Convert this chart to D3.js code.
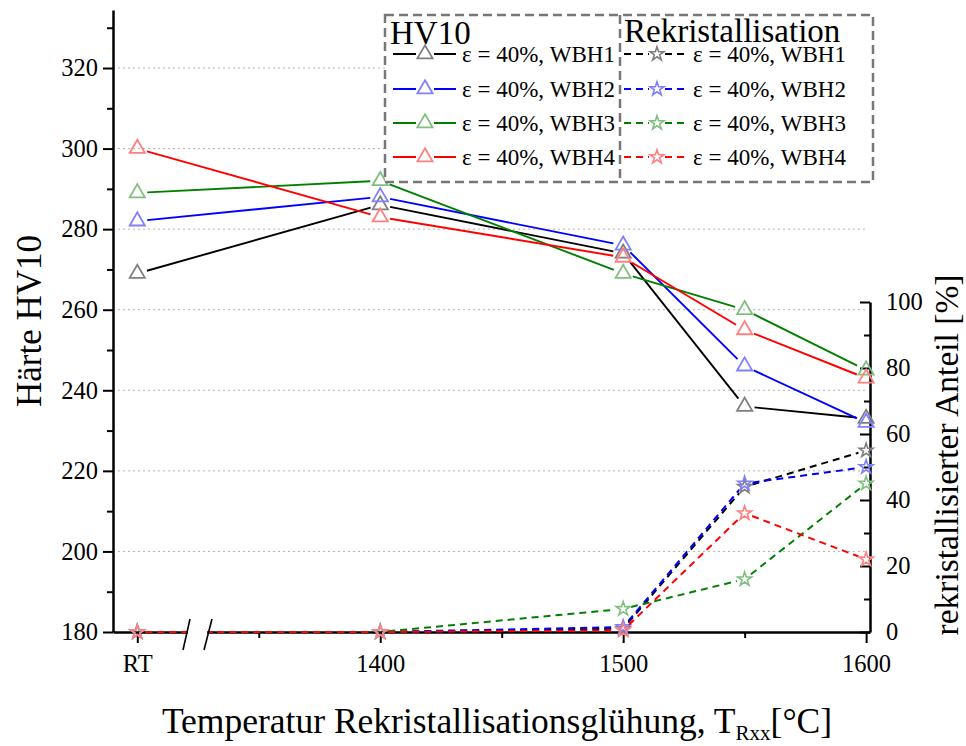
<!DOCTYPE html>
<html>
<head>
<meta charset="utf-8">
<script src="https://cdn.jsdelivr.net/npm/d3@7"></script>
<style>
  body { margin: 0; background: #fff; }
  text { font-family: "Liberation Serif", "Times New Roman", serif; fill: #000; }
</style>
</head>
<body>
<svg id="chart" width="966" height="746"></svg>
<script>
// Annealing temperatures; 1300 is the position used for room temperature (RT)
const temps = [1300, 1400, 1500, 1550, 1600];
const seriesNames = ["WBH1", "WBH2", "WBH3", "WBH4"];
const seriesColors = ["#000000", "#0000ff", "#008000", "#ff0000"];
const markerColors = ["#808080", "#8080ff", "#80bf80", "#ff8080"];

// Hardness HV10
const hv10WBH1 = [269, 286, 274, 236, 233];
const hv10WBH2 = [282, 288, 276, 246, 232];
const hv10WBH3 = [289, 292, 269, 260, 245];
const hv10WBH4 = [300, 283, 273, 255, 243];

// Recrystallised fraction [%]
const rexWBH1 = [0, 0, 1, 44, 55];
const rexWBH2 = [0, 0, 1.5, 45, 50];
const rexWBH3 = [0, 0, 7, 16, 45];
const rexWBH4 = [0, 0, 0.5, 36, 22];

// Axis ticks
const xTickValues = [1300, 1400, 1500, 1600];
const xTickLabels = ["RT", "1400", "1500", "1600"];
const xMinorTicks = [1350, 1450, 1550];
const hvTicks = [180, 200, 220, 240, 260, 280, 300, 320];
const hvMinorTicks = [190, 210, 230, 250, 270, 290, 310, 330];
const rexTicks = [0, 20, 40, 60, 80, 100];
const rexMinorTicks = [10, 30, 50, 70, 90];

const hvSeries = [hv10WBH1, hv10WBH2, hv10WBH3, hv10WBH4];
const rexSeries = [rexWBH1, rexWBH2, rexWBH3, rexWBH4];

const svg = d3.select("#chart");

const x = d3.scaleLinear().domain([1290, 1601.6]).range([113, 870]);
const yHV = d3.scaleLinear().domain([180, 334.4]).range([632, 10]);
const yRex = d3.scaleLinear().domain([0, 100]).range([632, 302]);

const x0 = x.range()[0], x1 = x.range()[1], yBase = yHV.range()[0];

// Horizontal dotted grid at the major hardness ticks
svg.append("g").selectAll("line")
  .data(hvTicks.filter(v => v > 180))
  .join("line")
  .attr("x1", x0).attr("x2", x1 - 2)
  .attr("y1", d => yHV(d)).attr("y2", d => yHV(d))
  .attr("stroke", "#b4b4b4").attr("stroke-width", 1)
  .attr("stroke-dasharray", "2,3");

function styleAxis(g) {
  g.selectAll(".domain").attr("stroke", "#000").attr("stroke-width", 2.5);
  g.selectAll(".tick line").attr("stroke", "#000").attr("stroke-width", 2);
  g.selectAll("text").style("font-family", "'Liberation Serif', serif").attr("fill", "#000");
}

// Left axis (hardness)
const gLeftMinor = svg.append("g").attr("transform", `translate(${x0},0)`)
  .call(d3.axisLeft(yHV).tickValues(hvMinorTicks).tickSize(6).tickSizeOuter(0).tickFormat(""));
gLeftMinor.select(".domain").remove();
styleAxis(gLeftMinor);
const gLeft = svg.append("g").attr("transform", `translate(${x0},0)`)
  .call(d3.axisLeft(yHV).tickValues(hvTicks).tickSize(10).tickSizeOuter(0).tickPadding(5));
gLeft.selectAll("text").attr("font-size", 24.5);
styleAxis(gLeft);

// Right axis (recrystallised fraction), ticks pointing inward
const gRightMinor = svg.append("g").attr("transform", `translate(${x1},0)`)
  .call(d3.axisRight(yRex).tickValues(rexMinorTicks).tickSizeInner(-6).tickSizeOuter(0).tickFormat(""));
gRightMinor.select(".domain").remove();
styleAxis(gRightMinor);
const gRight = svg.append("g").attr("transform", `translate(${x1},0)`)
  .call(d3.axisRight(yRex).tickValues(rexTicks).tickSizeInner(-10).tickSizeOuter(0).tickPadding(16));
gRight.selectAll("text").attr("font-size", 24.5);
styleAxis(gRight);

// Bottom axis
const gBottomMinor = svg.append("g").attr("transform", `translate(0,${yBase})`)
  .call(d3.axisBottom(x).tickValues(xMinorTicks).tickSize(6).tickSizeOuter(0).tickFormat(""));
gBottomMinor.select(".domain").remove();
styleAxis(gBottomMinor);
const gBottom = svg.append("g").attr("transform", `translate(0,${yBase})`)
  .call(d3.axisBottom(x).tickValues(xTickValues).tickSize(11).tickSizeOuter(0).tickPadding(12)
    .tickFormat((d, i) => xTickLabels[i]));
gBottom.selectAll("text").attr("font-size", 24.5);
styleAxis(gBottom);

// Connecting segments that stop short of the markers
function segments(vals, yScale, gap) {
  const pts = temps.map((t, i) => [x(t), yScale(vals[i])]);
  const out = [];
  for (let i = 0; i < pts.length - 1; i++) {
    const [ax, ay] = pts[i], [bx, by] = pts[i + 1];
    const dx = bx - ax, dy = by - ay, len = Math.hypot(dx, dy);
    if (len <= 2 * gap) continue;
    const ux = dx / len, uy = dy / len;
    out.push([ax + ux * gap, ay + uy * gap, bx - ux * gap, by - uy * gap]);
  }
  return out;
}

const triangle = d3.symbol().type(d3.symbolTriangle).size(100);
const star = d3.symbol().type(d3.symbolStar).size(60);

// Recrystallisation curves (dashed, stars)
rexSeries.forEach((vals, s) => {
  const g = svg.append("g");
  g.selectAll("line").data(segments(vals, yRex, 8)).join("line")
    .attr("x1", d => d[0]).attr("y1", d => d[1]).attr("x2", d => d[2]).attr("y2", d => d[3])
    .attr("stroke", seriesColors[s]).attr("stroke-width", 2).attr("stroke-dasharray", "7,5");
  g.selectAll("path").data(vals).join("path")
    .attr("d", star)
    .attr("transform", (d, i) => `translate(${x(temps[i])},${yRex(d)})`)
    .attr("fill", "none").attr("stroke", markerColors[s]).attr("stroke-width", 1.6);
});

// Hardness curves (solid, triangles)
hvSeries.forEach((vals, s) => {
  const g = svg.append("g");
  g.selectAll("line").data(segments(vals, yHV, 10)).join("line")
    .attr("x1", d => d[0]).attr("y1", d => d[1]).attr("x2", d => d[2]).attr("y2", d => d[3])
    .attr("stroke", seriesColors[s]).attr("stroke-width", 1.9);
  g.selectAll("path").data(vals).join("path")
    .attr("d", triangle)
    .attr("transform", (d, i) => `translate(${x(temps[i])},${yHV(d)})`)
    .attr("fill", "none").attr("stroke", markerColors[s]).attr("stroke-width", 1.8);
});

// Axis break between RT and 1400
svg.append("rect").attr("x", 188).attr("y", yBase - 8).attr("width", 19).attr("height", 16).attr("fill", "#fff");
[[190, 183], [212, 204]].forEach(([top, bot]) => {
  svg.append("line").attr("x1", top).attr("y1", yBase - 13).attr("x2", bot).attr("y2", yBase + 18)
    .attr("stroke", "#000").attr("stroke-width", 1.6);
});

// Axis titles
svg.append("text")
  .attr("transform", "translate(41,321) rotate(-90)")
  .attr("text-anchor", "middle").attr("font-size", 35)
  .text("Härte HV10");

svg.append("text")
  .attr("transform", "translate(958,455) rotate(-90)")
  .attr("text-anchor", "middle").attr("font-size", 33.5)
  .text("rekristallisierter Anteil [%]");

const xTitle = svg.append("text")
  .attr("x", 497).attr("y", 733).attr("text-anchor", "middle").attr("font-size", 35.5);
xTitle.append("tspan").text("Temperatur Rekristallisationsglühung, T");
xTitle.append("tspan").attr("font-size", 21).attr("dy", 7).text("Rxx");
xTitle.append("tspan").attr("dy", -7).text("[°C]");

// Legend
const lg = svg.append("g");
lg.append("rect").attr("x", 385).attr("y", 15).attr("width", 488).attr("height", 167)
  .attr("fill", "#fff").attr("stroke", "#777").attr("stroke-width", 2.5).attr("stroke-dasharray", "9,5");
lg.append("line").attr("x1", 620).attr("x2", 620).attr("y1", 15).attr("y2", 182)
  .attr("stroke", "#777").attr("stroke-width", 2.5).attr("stroke-dasharray", "9,5");
lg.append("text").attr("x", 390).attr("y", 44).attr("font-size", 33).text("HV10");
lg.append("text").attr("x", 624).attr("y", 42).attr("font-size", 33).text("Rekristallisation");

const rowY = [54, 89, 123, 157];
seriesNames.forEach((name, s) => {
  const y = rowY[s];
  // hardness entry
  lg.append("line").attr("x1", 393).attr("x2", 416).attr("y1", y).attr("y2", y)
    .attr("stroke", seriesColors[s]).attr("stroke-width", 2);
  lg.append("line").attr("x1", 434).attr("x2", 456).attr("y1", y).attr("y2", y)
    .attr("stroke", seriesColors[s]).attr("stroke-width", 2);
  lg.append("path").attr("d", triangle).attr("transform", `translate(425,${y})`)
    .attr("fill", "none").attr("stroke", markerColors[s]).attr("stroke-width", 1.8);
  lg.append("text").attr("x", 462).attr("y", y + 8).attr("font-size", 23).text(`ε = 40%, ${name}`);
  // recrystallisation entry
  lg.append("line").attr("x1", 624).attr("x2", 649).attr("y1", y).attr("y2", y)
    .attr("stroke", seriesColors[s]).attr("stroke-width", 2).attr("stroke-dasharray", "7,5");
  lg.append("line").attr("x1", 665).attr("x2", 686).attr("y1", y).attr("y2", y)
    .attr("stroke", seriesColors[s]).attr("stroke-width", 2).attr("stroke-dasharray", "7,5");
  lg.append("path").attr("d", star).attr("transform", `translate(657,${y})`)
    .attr("fill", "none").attr("stroke", markerColors[s]).attr("stroke-width", 1.6);
  lg.append("text").attr("x", 693).attr("y", y + 8).attr("font-size", 23).text(`ε = 40%, ${name}`);
});
</script>
</body>
</html>
